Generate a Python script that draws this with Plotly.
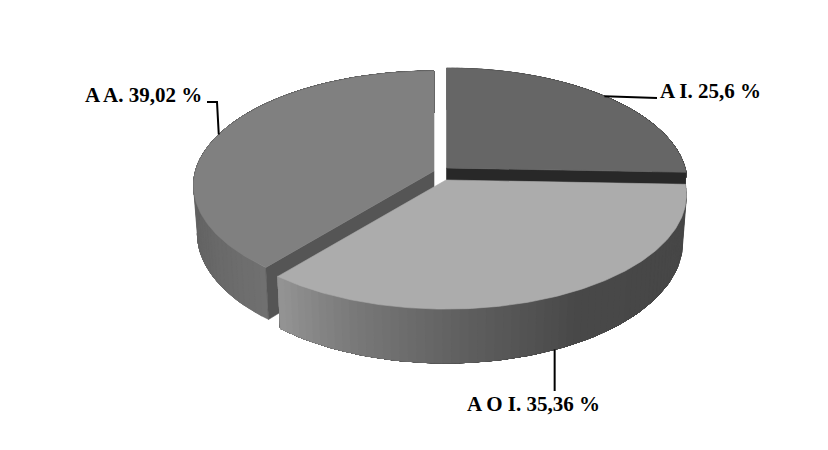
import numpy as np
import plotly.graph_objects as go

# Data
categories = ["A I.", "A O I.", "A A."]
values = [25.6, 35.36, 39.02]
value_labels = ["25,6", "35,36", "39,02"]

# Look of each slice (grey levels)
top_grey = [102, 172, 128]
cut_grey = [40, 90, 85]
wall_stops = [[0, 92, 180], [92, 150, 175, 200, 219.5], [219.5, 250, 300, 360]]
wall_greys = [[70, 70, 70], [70, 72, 95, 122, 150], [112, 100, 92, 92]]
apexes = [(446.5, 168), (446, 180), (434, 171)]

# Projection of the tilted disc
RX, RY, PERSP, DEPTH, SHRINK = 238.5, 112.7, 0.127, 47, 0.016


def project(apex, t_deg, r=1.0, drop=0.0):
    t = np.radians(t_deg)
    u, v = r * np.sin(t), r * np.cos(t)
    s = 1 / (1 + PERSP * v)
    narrow = 1 - SHRINK * drop / DEPTH
    return apex[0] + RX * u * s * narrow, apex[1] + (-RY * v + drop) * s


def grey(g):
    g = int(round(g))
    return f"rgb({g},{g},{g})"


def poly(fig, xs, ys, g, width=0.6):
    fig.add_trace(go.Scatter(x=list(xs) + [xs[0]], y=list(ys) + [ys[0]], mode="lines",
                             fill="toself", fillcolor=grey(g),
                             line=dict(color=grey(g), width=width), hoverinfo="skip"))


total = sum(values)
edges = np.concatenate([[0], np.cumsum(values) / total * 360])
fig = go.Figure()


def draw_cut(i, t):
    a = apexes[i]
    p1, p2 = project(a, t), project(a, t, drop=DEPTH)
    p0b = project(a, 0, r=0, drop=DEPTH)
    poly(fig, [a[0], p1[0], p2[0], p0b[0]], [a[1], p1[1], p2[1], p0b[1]], cut_grey[i])


def draw_wall(i):
    # Each band runs to the end of the slice and the next band paints over it, so no seams show.
    a = apexes[i]
    ts = np.linspace(edges[i], edges[i + 1], 70)
    gs = np.interp(ts, wall_stops[i], wall_greys[i])
    for j in range(len(ts) - 1):
        rest = ts[j:]
        up = [project(a, t) for t in rest]
        down = [project(a, t, drop=DEPTH) for t in rest[::-1]]
        p = up + down
        poly(fig, [q[0] for q in p], [q[1] for q in p], gs[j], width=0.4)


def draw_top(i):
    a = apexes[i]
    ts = np.linspace(edges[i], edges[i + 1], 160)
    p = [project(a, t) for t in ts]
    poly(fig, [a[0]] + [q[0] for q in p], [a[1]] + [q[1] for q in p], top_grey[i])


# Back-to-front: A A., then A I., then A O I.
draw_wall(2); draw_cut(2, edges[2]); draw_top(2)
draw_wall(0); draw_cut(0, edges[1]); draw_top(0)
draw_wall(1); draw_top(1)

# Leaders start at each slice's mid-angle; labels sit at the chart's label positions
mids = (edges[:-1] + edges[1:]) / 2
starts = [project(apexes[0], mids[0]),
          project(apexes[1], mids[1], drop=DEPTH),
          project(apexes[2], mids[2])]
elbows = [[(657, 98)], [(starts[1][0], 391)], [(217, 102), (207, 102)]]
label_pos = [(658, 91), (464.5, 404), (82.5, 95)]

for st, el in zip(starts, elbows):
    fig.add_trace(go.Scatter(x=[st[0]] + [e[0] for e in el], y=[st[1]] + [e[1] for e in el],
                             mode="lines", line=dict(color="black", width=2), hoverinfo="skip"))

for c, v, pos in zip(categories, value_labels, label_pos):
    fig.add_annotation(x=pos[0], y=pos[1], text=f"<b>{c} {v} %</b>", showarrow=False,
                       xanchor="left", yanchor="middle", xref="x", yref="y",
                       font=dict(family="Liberation Serif", size=21, color="black"))

fig.update_layout(width=828, height=450, autosize=False, showlegend=False,
                  margin=dict(l=0, r=0, t=0, b=0), paper_bgcolor="white", plot_bgcolor="white",
                  xaxis=dict(range=[0, 828], visible=False, fixedrange=True),
                  yaxis=dict(range=[450, 0], visible=False, fixedrange=True))
fig.write_html("out.html", config={"displayModeBar": False},
               post_script="document.body.style.margin='0';document.body.style.overflow='hidden';")
